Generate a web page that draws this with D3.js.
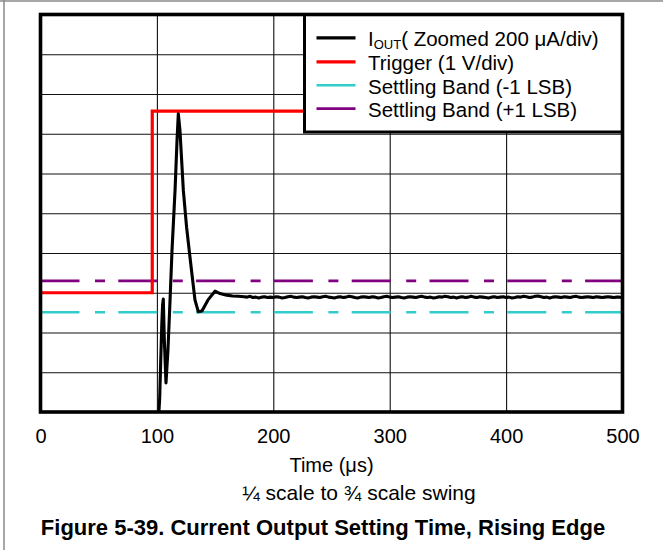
<!DOCTYPE html>
<html>
<head>
<meta charset="utf-8">
<script src="https://cdn.jsdelivr.net/npm/d3@7"></script>
<style>
  html, body { margin: 0; padding: 0; background: #fff; }
  svg { display: block; }
  text { font-family: "Liberation Sans", Arial, sans-serif; fill: #000; }
</style>
</head>
<body>
<svg id="chart" width="663" height="550"></svg>
<script>
// Time axis (µs) and vertical divisions of the scope screen
const timeTicks = [0, 100, 200, 300, 400, 500];
const divTicks = [0, 1, 2, 3, 4, 5, 6, 7, 8, 9, 10];

// Trigger step (1 V/div), in divisions
const triggerTime = [0, 96, 96, 500];
const triggerDiv = [3.0, 3.0, 7.57, 7.57];

// Settling band limits (±1 LSB), in divisions
const bandMinus = 2.51;
const bandPlus = 3.30;

// Zoomed output current (200 µA/div): transient after the trigger
const ioutTime = [100.6, 101.6, 102.4, 103.2, 104.2, 104.9, 105.5, 106.4, 107.8, 109.5, 111.3, 113.0, 115.6,
  117.3, 118.4, 119.8, 122.7, 125.5, 128.4, 132.7, 135.6, 138.7, 143.9, 149.9, 154.2, 160, 165, 170];
const ioutDiv = [-0.4, -0.05, 0.35, 1.2, 2.2, 2.7, 2.84, 1.8, 0.73, 1.56, 2.82, 4.08, 5.58,
  6.84, 7.50, 7.09, 5.58, 4.65, 3.90, 2.82, 2.52, 2.54, 2.82, 3.04, 2.98, 2.94, 2.92, 2.91];

// ...and the settled level, sampled every 2.5 µs from 175 µs to 500 µs
const settledStart = 175;
const settledStep = 2.5;
const settledDiv = [
  2.90, 2.89, 2.91, 2.88, 2.89, 2.87, 2.89, 2.90, 2.88, 2.89,
  2.88, 2.90, 2.89, 2.87, 2.88, 2.90, 2.91, 2.89, 2.88, 2.89,
  2.90, 2.88, 2.87, 2.89, 2.90, 2.89, 2.88, 2.90, 2.91, 2.89,
  2.88, 2.87, 2.89, 2.90, 2.88, 2.89, 2.91, 2.90, 2.88, 2.87,
  2.89, 2.90, 2.89, 2.88, 2.90, 2.89, 2.87, 2.88, 2.90, 2.91,
  2.89, 2.88, 2.89, 2.90, 2.88, 2.87, 2.89, 2.90, 2.89, 2.88,
  2.90, 2.91, 2.89, 2.88, 2.89, 2.87, 2.88, 2.90, 2.89, 2.91,
  2.90, 2.88, 2.89, 2.87, 2.89, 2.90, 2.88, 2.89, 2.91, 2.89,
  2.88, 2.90, 2.89, 2.88, 2.87, 2.89, 2.90, 2.88, 2.89, 2.90,
  2.88, 2.89, 2.87, 2.88, 2.90, 2.89, 2.91, 2.90, 2.88, 2.89,
  2.91, 2.92, 2.90, 2.88, 2.89, 2.87, 2.89, 2.90, 2.89, 2.88,
  2.90, 2.89, 2.88, 2.90, 2.91, 2.89, 2.88, 2.89, 2.90, 2.89,
  2.88, 2.90, 2.89, 2.88, 2.89, 2.90, 2.89, 2.88, 2.89, 2.89,
  2.87];

const legendLabels = ["Trigger (1 V/div)", "Settling Band (-1 LSB)", "Settling Band (+1 LSB)"];
const legendColors = ["#ff0000", "#33cccc", "#800080"];

const svg = d3.select("#chart");
const plot = { left: 40.5, right: 622.5, top: 14.5, bottom: 412 };

const x = d3.scaleLinear().domain([0, 500]).range([plot.left, plot.right]);
const y = d3.scaleLinear().domain([0, 10]).range([plot.bottom, plot.top]);

// page border on the left and top
svg.append("line").attr("x1", 4).attr("x2", 4).attr("y1", 0).attr("y2", 550)
  .attr("stroke", "#8a8a8a").attr("stroke-width", 1.5);
svg.append("line").attr("x1", 0).attr("x2", 663).attr("y1", 1).attr("y2", 1)
  .attr("stroke", "#8a8a8a").attr("stroke-width", 1.5);

// grid
const grid = svg.append("g");
grid.append("g")
  .attr("transform", `translate(0,${plot.bottom})`)
  .call(d3.axisBottom(x).tickValues(timeTicks).tickSize(-(plot.bottom - plot.top)).tickFormat(""))
  .call(g => g.select(".domain").remove())
  .call(g => g.selectAll("line").attr("stroke", "#111").attr("stroke-width", 1.1));
grid.append("g")
  .attr("transform", `translate(${plot.left},0)`)
  .call(d3.axisLeft(y).tickValues(divTicks).tickSize(-(plot.right - plot.left)).tickFormat(""))
  .call(g => g.select(".domain").remove())
  .call(g => g.selectAll("line").attr("stroke", "#111").attr("stroke-width", 1.1));

svg.append("clipPath").attr("id", "plotclip").append("rect")
  .attr("x", plot.left).attr("y", plot.top)
  .attr("width", plot.right - plot.left).attr("height", plot.bottom - plot.top);

const traces = svg.append("g").attr("clip-path", "url(#plotclip)");

// settling bands
const dash = "39,15.5,10,13.3";
[[bandPlus, "#800080"], [bandMinus, "#33cccc"]].forEach(([v, c]) => {
  traces.append("line")
    .attr("x1", x(0)).attr("x2", x(500)).attr("y1", y(v)).attr("y2", y(v))
    .attr("stroke", c).attr("stroke-width", 2.6).attr("stroke-dasharray", dash);
});

const line = d3.line().x(d => x(d[0])).y(d => y(d[1]));

// trigger
traces.append("path")
  .datum(triggerTime.map((t, i) => [t, triggerDiv[i]]))
  .attr("d", line).attr("fill", "none")
  .attr("stroke", "#ff0000").attr("stroke-width", 3.2).attr("stroke-linejoin", "miter");

// output current
const ioutPoints = ioutTime.map((t, i) => [t, ioutDiv[i]])
  .concat(settledDiv.map((v, i) => [settledStart + i * settledStep, v]));
traces.append("path")
  .datum(ioutPoints)
  .attr("d", line).attr("fill", "none")
  .attr("stroke", "#000").attr("stroke-width", 3.1).attr("stroke-linejoin", "round");

// time axis labels
svg.append("g")
  .attr("transform", `translate(0,${plot.bottom})`)
  .call(d3.axisBottom(x).tickValues(timeTicks).tickSize(0).tickPadding(17).tickFormat(d3.format("d")))
  .call(g => g.select(".domain").remove())
  .call(g => g.selectAll("text").attr("font-size", 20)
    .attr("font-family", '"Liberation Sans", Arial, sans-serif').attr("fill", "#000"));

svg.append("text").attr("x", x(250)).attr("y", 472).attr("text-anchor", "middle")
  .attr("font-size", 20).text("Time (μs)");
svg.append("text").attr("x", 359).attr("y", 500).attr("text-anchor", "middle")
  .attr("font-size", 21).text("¼ scale to ¾ scale swing");
svg.append("text").attr("x", 323).attr("y", 535).attr("text-anchor", "middle")
  .attr("font-size", 22).attr("font-weight", "bold")
  .text("Figure 5-39. Current Output Setting Time, Rising Edge");

// legend
const lg = svg.append("g");
lg.append("rect").attr("x", 304.5).attr("y", plot.top).attr("width", plot.right - 304.5)
  .attr("height", 132 - plot.top).attr("fill", "#fff").attr("stroke", "#000").attr("stroke-width", 3);
const rowY = [37.8, 61.8, 85.3, 108.6];
const sx0 = 316.5, sx1 = 355.5, tx = 368, fs = 20.5, base = 8.3;
lg.append("line").attr("x1", sx0).attr("x2", sx1).attr("y1", rowY[0]).attr("y2", rowY[0])
  .attr("stroke", "#000").attr("stroke-width", 3.2);
const t0 = lg.append("text").attr("x", tx).attr("y", rowY[0] + base).attr("font-size", fs);
t0.append("tspan").text("I");
t0.append("tspan").attr("font-size", 13).attr("dy", 2.5).text("OUT");
t0.append("tspan").attr("dy", -2.5).text("( Zoomed 200 μA/div)");
legendLabels.forEach((label, i) => {
  const yy = rowY[i + 1];
  lg.append("line").attr("x1", sx0).attr("x2", sx1).attr("y1", yy).attr("y2", yy)
    .attr("stroke", legendColors[i]).attr("stroke-width", i === 0 ? 3.2 : 2.6);
  lg.append("text").attr("x", tx).attr("y", yy + base).attr("font-size", fs).text(label);
});

// plot frame
svg.append("rect").attr("x", plot.left).attr("y", plot.top)
  .attr("width", plot.right - plot.left).attr("height", plot.bottom - plot.top)
  .attr("fill", "none").attr("stroke", "#000").attr("stroke-width", 3.6);
</script>
</body>
</html>
